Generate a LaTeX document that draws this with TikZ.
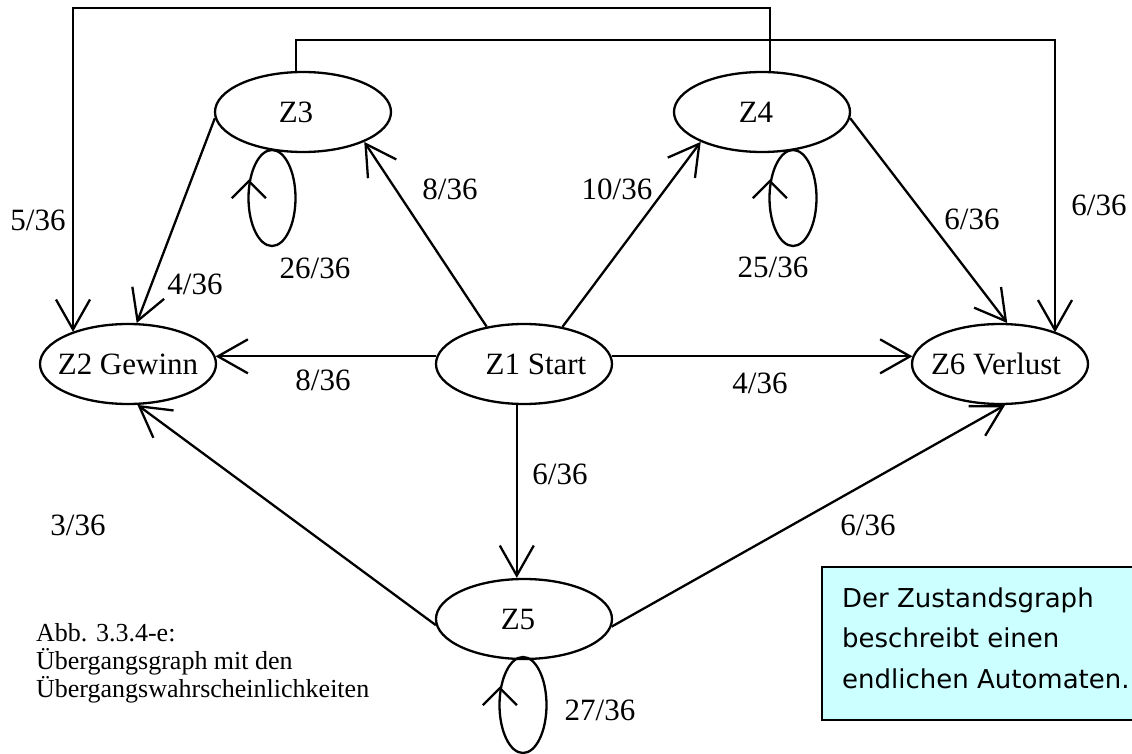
\documentclass[tikz,border=0pt]{standalone}
\usepackage{fontspec}
\setmainfont{Liberation Serif}
\newfontfamily\notefont{DejaVu Sans}
\usetikzlibrary{shapes.geometric,arrows.meta,calc}
\definecolor{notecyan}{HTML}{CCFFFF}
% state label in a zero-width box, so the ellipse keeps its fixed size;
% the optional argument moves the label sideways
\newcommand{\statelabel}[2][0pt]{\makebox[0pt]{\hspace*{#1}#2}}

\begin{document}
\begin{tikzpicture}[x=1pt,y=-1pt,
  line width=2.3pt,
  state/.style={ellipse, draw, minimum width=176pt, minimum height=80pt,
    inner sep=0pt, font=\fontsize{31}{36}\selectfont},
  loopring/.style={ellipse, draw, minimum width=47pt, minimum height=96pt, inner sep=0pt},
  edge/.style={-{Straight Barb[length=30pt,width=34pt]}},
  prob/.style={font=\fontsize{31}{36}\selectfont, inner sep=0pt},
  caption/.style={font=\fontsize{26}{28}\selectfont, align=left, inner sep=0pt},
  notebox/.style={draw, fill=notecyan, line width=1.6pt, minimum height=153pt,
    minimum width=340pt, inner sep=0pt},
  notetext/.style={align=left, inner sep=0pt,
    font=\notefont\fontsize{26}{40.5}\selectfont}]

\useasboundingbox (0,0) rectangle (1132,754);
\clip (0,0) rectangle (1132,754);

% states
\node[state] (z1) at (524,364) {\statelabel[24pt]{Z1 Start}};
\node[state] (z2) at (128,364) {\statelabel{Z2 Gewinn}};
\node[state] (z3) at (303,112) {\statelabel[-14pt]{Z3}};
\node[state] (z4) at (762,112) {\statelabel[-12pt]{Z4}};
\node[state] (z5) at (524,619) {\statelabel[-12pt]{Z5}};
\node[state] (z6) at (1000,364) {\statelabel[-8pt]{Z6 Verlust}};

% transitions
\draw[edge] (z1.135) -- (z3.334);
\draw[edge] (z1.44) -- (z4.206);
\draw[edge] (z1.175) -- (z2.5);
\draw[edge] (z1.5) -- (z6.175);
\draw[edge] (z1.260) -- (z1.260 |- z5.north);
\draw[edge] (z5.184) -- (z2.283);
\draw[edge] (z5.355) -- (z6.277);
\draw[edge] (z3.184) -- (z2.78);
\draw[edge] (z4.356) -- (z6.80);

% long routes over the top
\coordinate (tl) at (73,8);
\coordinate (tr) at (1055,40);
\draw[edge] (z4.79) |- (tl) -- (tl |- z2.150);
\draw[edge] (z3.100) |- (tr) -- (tr |- z6.29);

% self loops
\node[loopring] (l3) at (272,198) {};
\node[loopring] (l4) at (793,198) {};
\node[loopring] (l5) at (523,705) {};
\foreach \l in {l3,l4,l5}
  \draw (\l.144) ++(-17,17) -- (\l.144) -- ++(17,17);

% probabilities
\node[prob] (p52) at (38,220) {5/36};
\node[prob] (p32) at (195,284) {4/36};
\node[prob] (p33) at (315,268) {26/36};
\node[prob] (p13) at (450,189) {8/36};
\node[prob] (p14) at (617,189) {10/36};
\node[prob] (p44) at (773,267) {25/36};
\node[prob] (p46) at (972,219) {6/36};
\node[prob] (p36) at (1099,205) {6/36};
\node[prob] (p12) at (323,380) {8/36};
\node[prob] (p16) at (760,383) {4/36};
\node[prob] (p15) at (560,474) {6/36};
\node[prob] (p52b) at (78,525) {3/36};
\node[prob] (p56) at (868,525) {6/36};
\node[prob] (p55) at (600,710) {27/36};

% caption (anchor base = baseline of the last line)
\node[caption, anchor=base west] (cap) at (35,697)
  {Abb. 3.3.4-e:\\Übergangsgraph mit den\\Übergangswahrscheinlichkeiten};

% note
\node[notebox, anchor=north west] (note) at (821,566) {};
\node[notetext, anchor=base west] (notetxt) at (841,688)
  {Der Zustandsgraph\\beschreibt einen\\endlichen Automaten.};
\end{tikzpicture}
\end{document}
